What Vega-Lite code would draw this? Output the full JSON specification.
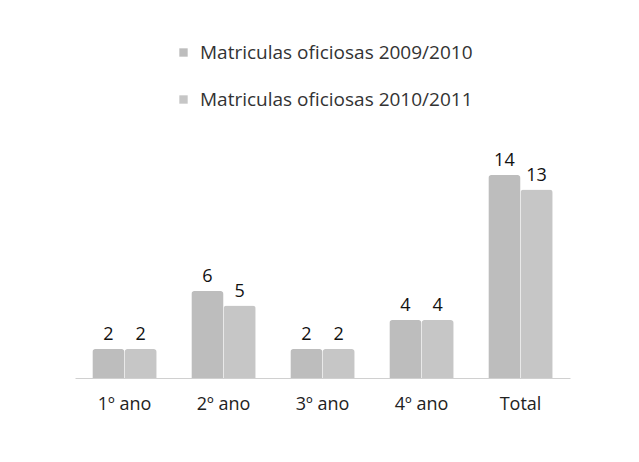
{
  "$schema": "https://vega.github.io/schema/vega-lite/v6.json",
  "width": 495,
  "height": 232,
  "autosize": "none",
  "padding": {"left": 75, "top": 146, "right": 69, "bottom": 84},
  "background": "white",
  "config": {"view": {"stroke": null}, "font": "Open Sans"},
  "data": {"values": [
    {"ano": "1º ano", "serie": "Matriculas oficiosas 2009/2010", "valor": 2},
    {"ano": "1º ano", "serie": "Matriculas oficiosas 2010/2011", "valor": 2},
    {"ano": "2º ano", "serie": "Matriculas oficiosas 2009/2010", "valor": 6},
    {"ano": "2º ano", "serie": "Matriculas oficiosas 2010/2011", "valor": 5},
    {"ano": "3º ano", "serie": "Matriculas oficiosas 2009/2010", "valor": 2},
    {"ano": "3º ano", "serie": "Matriculas oficiosas 2010/2011", "valor": 2},
    {"ano": "4º ano", "serie": "Matriculas oficiosas 2009/2010", "valor": 4},
    {"ano": "4º ano", "serie": "Matriculas oficiosas 2010/2011", "valor": 4},
    {"ano": "Total", "serie": "Matriculas oficiosas 2009/2010", "valor": 14},
    {"ano": "Total", "serie": "Matriculas oficiosas 2010/2011", "valor": 13}
  ]},
  "encoding": {
    "x": {"field": "ano", "type": "nominal", "sort": null,
      "scale": {"paddingInner": 0.35, "paddingOuter": 0.175},
      "axis": {"title": null, "labelAngle": 0, "ticks": false, "domain": true, "domainColor": "#d0d0d0", "labelFontSize": 18, "labelColor": "#222", "labelPadding": 17, "labelDx": -10, "labelFont": "Open Sans"}},
    "xOffset": {"field": "serie", "type": "nominal"},
    "y": {"field": "valor", "type": "quantitative", "scale": {"domain": [0, 16]}, "axis": null}
  },
  "layer": [
    {"mark": {"type": "bar", "cornerRadiusTopLeft": 3, "cornerRadiusTopRight": 3},
     "encoding": {
       "color": {"field": "serie", "type": "nominal",
         "scale": {"range": ["#bdbdbd", "#c6c6c6"]},
         "legend": {"title": null, "orient": "none", "legendX": 99, "legendY": -103, "direction": "vertical",
           "symbolType": "square", "symbolSize": 70, "labelFontSize": 19, "labelFont": "Open Sans", "labelColor": "#333", "rowPadding": 27, "labelOffset": 7, "labelLimit": 400}}
     }},
    {"mark": {"type": "text", "dy": -14, "fontSize": 18, "color": "#111", "font": "Open Sans"},
     "encoding": {"text": {"field": "valor", "type": "quantitative"}}}
  ]
}
